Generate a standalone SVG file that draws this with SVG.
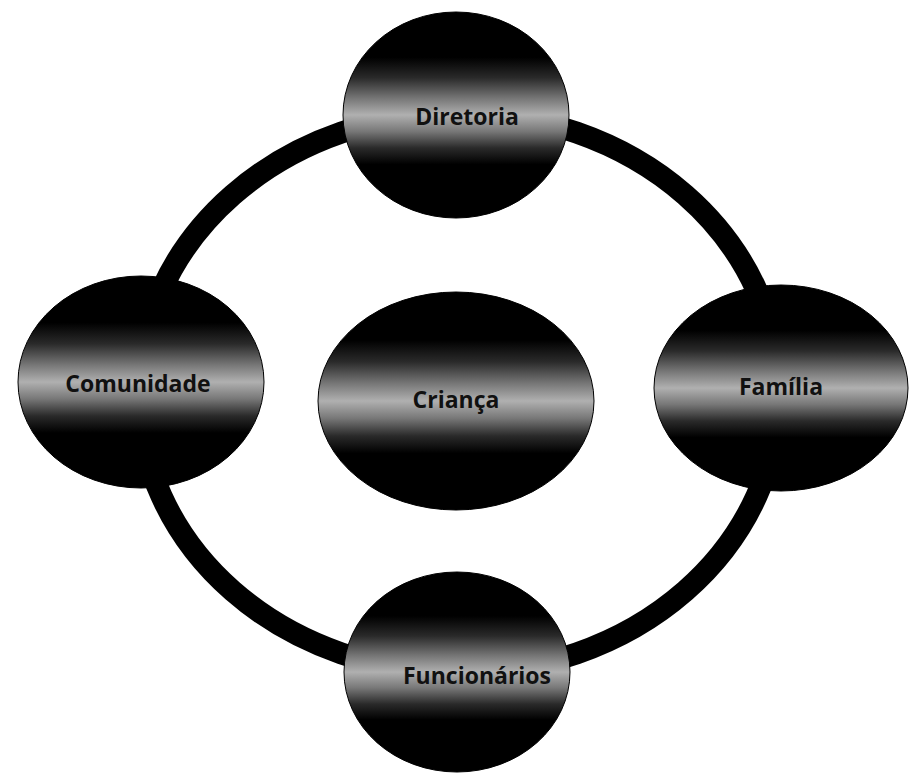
<svg xmlns="http://www.w3.org/2000/svg" width="909" height="774" viewBox="0 0 909 774">
  <defs>
    <linearGradient id="band" x1="0" y1="0" x2="0" y2="1">
      <stop offset="0" stop-color="#000"/>
      <stop offset="0.22" stop-color="#000"/>
      <stop offset="0.32" stop-color="#2a2a2a"/>
      <stop offset="0.42" stop-color="#777"/>
      <stop offset="0.5" stop-color="#b0b0b0"/>
      <stop offset="0.58" stop-color="#777"/>
      <stop offset="0.66" stop-color="#2a2a2a"/>
      <stop offset="0.74" stop-color="#000"/>
      <stop offset="1" stop-color="#000"/>
    </linearGradient>
    <style>
      .node { fill: url(#band); stroke: #000; stroke-width: 1; }
      .label { font-family: "Open Sans", "Liberation Sans", sans-serif; font-weight: bold; font-size: 23px; fill: #111; text-anchor: middle; dominant-baseline: central; }
      .ring { fill: none; stroke: #000; stroke-width: 22; }
    </style>
  </defs>
  <rect width="909" height="774" fill="#fff"/>
  <g id="connectors">
    <ellipse class="ring" cx="459" cy="393" rx="320" ry="280"/>
  </g>
  <g id="diretoria">
    <ellipse class="node" cx="456" cy="115" rx="113" ry="103"/>
    <text class="label" x="467" y="116">Diretoria</text>
  </g>
  <g id="comunidade">
    <ellipse class="node" cx="141" cy="382" rx="123" ry="106"/>
    <text class="label" x="138" y="383">Comunidade</text>
  </g>
  <g id="crianca">
    <ellipse class="node" cx="456" cy="401" rx="138" ry="109"/>
    <text class="label" x="456" y="399">Criança</text>
  </g>
  <g id="familia">
    <ellipse class="node" cx="781" cy="388" rx="127" ry="103"/>
    <text class="label" x="781" y="386">Família</text>
  </g>
  <g id="funcionarios">
    <ellipse class="node" cx="457" cy="672" rx="113" ry="100"/>
    <text class="label" x="477" y="675">Funcionários</text>
  </g>
</svg>
